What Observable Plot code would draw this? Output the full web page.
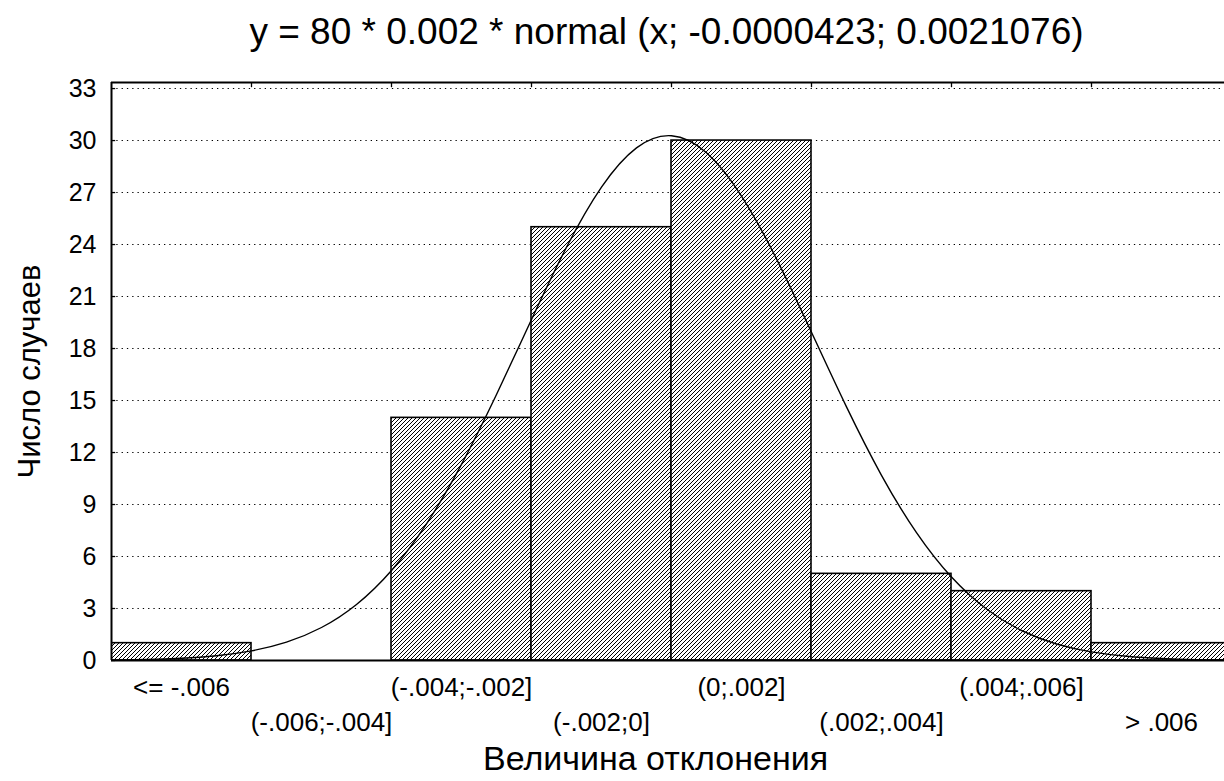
<!DOCTYPE html>
<html>
<head>
<meta charset="utf-8">
<script src="https://cdn.jsdelivr.net/npm/d3@7"></script>
<script src="https://cdn.jsdelivr.net/npm/@observablehq/plot@0.6"></script>
<style>
  html, body { margin: 0; padding: 0; background: #fff; overflow: hidden; }
  #title { font-family: "Liberation Sans", Arial, sans-serif; font-size: 37px; line-height: 37px;
           height: 70px; box-sizing: border-box; padding-top: 13px; padding-left: 109px; width: 1224px; text-align: center; color: #000; white-space: nowrap; }
</style>
</head>
<body>
<svg width="0" height="0" style="position:absolute">
  <defs>
    <pattern id="hatch" patternUnits="userSpaceOnUse" width="4" height="4">
      <rect width="4" height="4" fill="#fff"></rect>
      <path d="M-1,1 l2,-2 M0,4 l4,-4 M3,5 l2,-2" stroke="#000" stroke-width="1"></path>
    </pattern>
  </defs>
</svg>
<div id="title">y = 80 * 0.002 * normal (x; -0.0000423; 0.0021076)</div>
<div id="chart"></div>
<script>
// Categories (bins of width 0.002) and counts
const categories = ["<= -.006", "(-.006;-.004]", "(-.004;-.002]", "(-.002;0]", "(0;.002]", "(.002;.004]", "(.004;.006]", "> .006"];
const counts = [1, 0, 14, 25, 30, 5, 4, 1];
const yTicks = [0, 3, 6, 9, 12, 15, 18, 21, 24, 27, 30, 33];

// Fitted normal curve, read along x (value of deviation) -> expected count
const curveX = [-0.008, -0.0075, -0.007, -0.0065, -0.006, -0.0055, -0.005, -0.0045, -0.004, -0.0035, -0.003, -0.0025, -0.002, -0.0015, -0.001, -0.0005, 0,
                0.0005, 0.001, 0.0015, 0.002, 0.0025, 0.003, 0.0035, 0.004, 0.0045, 0.005, 0.0055, 0.006, 0.0065, 0.007, 0.0075, 0.008];
const curveY = [0.024, 0.058, 0.130, 0.277, 0.557, 1.060, 1.904, 3.234, 5.195, 7.885, 11.313, 15.344, 19.674, 23.843, 27.315, 29.580, 30.280,
                29.300, 26.800, 23.172, 18.938, 14.632, 10.685, 7.377, 4.813, 2.969, 1.731, 0.954, 0.497, 0.245, 0.114, 0.050, 0.021];

const bars = categories.map((c, i) => ({cat: c, i, count: counts[i]}));
// bin index position: value -0.008 maps to 0, each 0.002 is one bin
const curve = curveX.map((x, k) => ({pos: (x + 0.008) / 0.002, y: curveY[k]}));
const yTop = 33.35;
const xMax = 7.95;

const font = '"Liberation Sans", Arial, sans-serif';

const chart = Plot.plot({
  width: 1224,
  height: 711,
  marginTop: 12,
  marginBottom: 121,
  marginLeft: 111,
  marginRight: 0,
  style: {fontFamily: font, fontSize: "25px", color: "#000", background: "#fff", overflow: "hidden"},
  x: {type: "linear", domain: [0, xMax], axis: null},
  y: {domain: [0, yTop], axis: null},
  marks: [
    Plot.ruleY(yTicks.filter(d => d > 0), {stroke: "#000", strokeWidth: 1.1, strokeDasharray: "1.3,4"}),
    Plot.rectY(bars, {x1: d => d.i, x2: d => d.i + 1, y1: 0, y2: "count", fill: "url(#hatch)", stroke: "#000", strokeWidth: 1.6, clip: true}),
    Plot.line(curve, {x: "pos", y: "y", curve: "natural", stroke: "#000", strokeWidth: 1.4, clip: true}),
    // frame: left, bottom, top
    Plot.ruleX([0], {y1: 0, y2: yTop, stroke: "#000", strokeWidth: 2}),
    Plot.ruleY([0, yTop], {stroke: "#000", strokeWidth: 2}),
    // inward y ticks
    Plot.ruleY(yTicks, {x1: 0, x2: 0.03, stroke: "#000", strokeWidth: 1.3}),
    // top border ticks at bin boundaries
    Plot.ruleX(d3.range(1, 8), {y1: yTop, y2: yTop - 0.3, stroke: "#000", strokeWidth: 1.3}),
    // y tick labels
    Plot.text(yTicks, {x: 0, y: d => d, text: d => String(d), textAnchor: "end", dx: -15, fontSize: 25}),
    // x category labels on two alternating rows
    Plot.text(bars.filter(d => d.i % 2 === 0), {x: d => d.i + 0.5, frameAnchor: "bottom", lineAnchor: "middle", text: "cat", fontSize: 26, dy: 27}),
    Plot.text(bars.filter(d => d.i % 2 === 1), {x: d => d.i + 0.5, frameAnchor: "bottom", lineAnchor: "middle", text: "cat", fontSize: 26, dy: 62}),
    // axis titles
    Plot.text(["Число случаев"], {frameAnchor: "left", textAnchor: "middle", lineAnchor: "middle", rotate: -90, dx: -81, fontSize: 31}),
    Plot.text(["Величина отклонения"], {x: [3.886], frameAnchor: "bottom", lineAnchor: "middle", dy: 99, fontSize: 34})
  ]
});
document.getElementById("chart").appendChild(chart);
</script>
</body>
</html>
